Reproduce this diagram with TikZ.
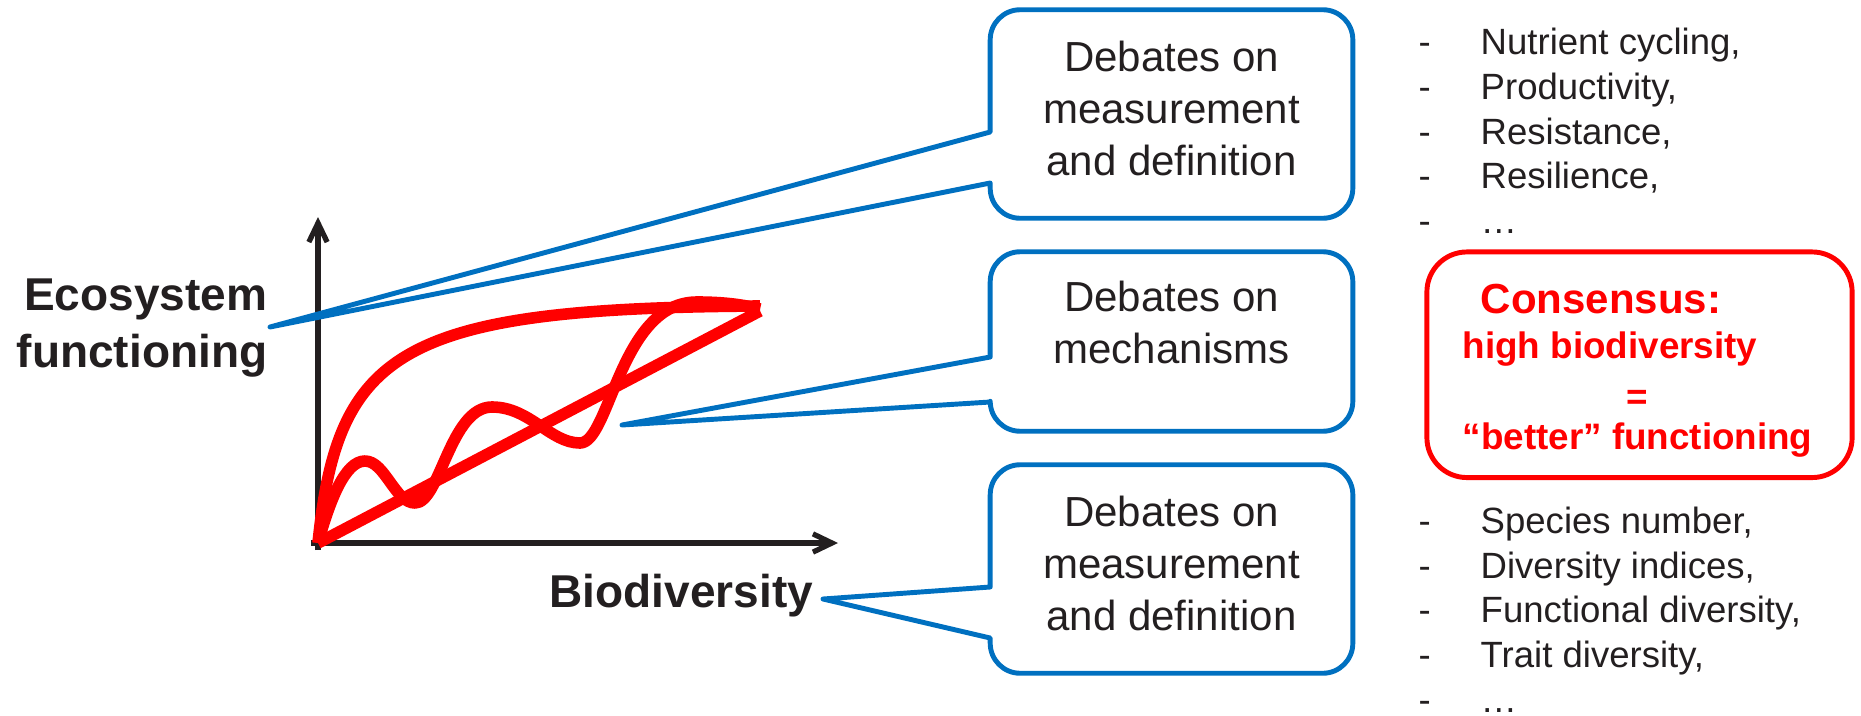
\documentclass[tikz,border=0pt]{standalone}
\usepackage{fontspec}
\setmainfont{Liberation Sans}
\usetikzlibrary{arrows.meta}

\definecolor{calloutblue}{RGB}{0,112,192}
\definecolor{inkgray}{RGB}{35,31,32}

% speech bubble: box node, tail tip, upper and lower y of the tail root
\newcommand{\speechbubble}[4]{%
  \draw[bubbleline] (#2) -- (#1.west |- 0,#3) [rounded corners=0.3cm]
    |- (#1.north east) |- (#1.south west) [sharp corners]
    -- (#1.west |- 0,#4) -- cycle;}

\begin{document}
\begin{tikzpicture}[x=0.01cm, y=-0.01cm, line join=round,
    axisline/.style={inkgray, line width=1.5pt, -{Straight Barb[length=5.4pt,width=5.2pt]}},
    redcurve/.style={red, line width=3.3pt},
    bubbleline/.style={calloutblue, line width=1.4pt},
    bubblebox/.style={inner sep=0, minimum width=3.61cm},
    boxtext/.style={inkgray, inner sep=0, font=\fontsize{11.95}{14.8}\selectfont},
    listtext/.style={inkgray, inner sep=0, font=\fontsize{10.39}{12.72}\selectfont},
    axislabel/.style={inkgray, inner sep=0, font=\fontsize{13.09}{16.22}\selectfont\bfseries},
    constext/.style={red, inner sep=0, anchor=base west, font=\fontsize{10.47}{12.9}\selectfont\bfseries}]
  \useasboundingbox (0,0) rectangle (1861,715);

  % axes
  \coordinate (origin) at (318,543);
  \coordinate (ytop) at (318,217);
  \coordinate (xend) at (838,543);
  \draw[axisline] ([yshift=-2pt]origin) -- (ytop);
  \draw[axisline] ([xshift=-2pt]origin) -- (xend);

  \node[axislabel, anchor=base east] (ecoLabel) at (268,310)
    {\begin{tabular}[t]{@{}r@{}}Ecosystem\\functioning\end{tabular}};
  \node[axislabel, anchor=base west] (bioLabel) at (549,607) {Biodiversity};

  % three response curves
  \draw[redcurve] (origin) -- (760,311);
  \draw[redcurve] (origin) .. controls (338,350) and (400,308) .. (760,306);
  \draw[redcurve] (origin) .. controls (330,500) and (345,461) .. (365,461)
    .. controls (385,461) and (395,503) .. (415,503)
    .. controls (440,503) and (450,407) .. (492,407)
    .. controls (530,407) and (550,443) .. (580,443)
    .. controls (610,443) and (620,302) .. (697,302)
    .. controls (725,302) and (745,305) .. (760,309);

  % callouts
  \coordinate (ecoTip) at (270,327);
  \coordinate (mechTip) at (622,425);
  \coordinate (bioTip) at (823,599);

  \node[bubblebox, minimum height=2.07cm] (measFn) at (1171.5,114) {};
  \node[bubblebox, minimum height=1.78cm] (mech) at (1171.5,341.5) {};
  \node[bubblebox, minimum height=2.07cm] (measBio) at (1171.5,569) {};

  \speechbubble{measFn}{ecoTip}{132}{183}
  \speechbubble{mech}{mechTip}{357}{402}
  \speechbubble{measBio}{bioTip}{587}{638}

  \node[boxtext, anchor=base] (measFnText) at (1171.5,71.7)
    {\begin{tabular}[t]{@{}c@{}}Debates on\\measurement\\and definition\end{tabular}};
  \node[boxtext, anchor=base] (mechText) at (1171.5,311.7)
    {\begin{tabular}[t]{@{}c@{}}Debates on\\mechanisms\end{tabular}};
  \node[boxtext, anchor=base] (measBioText) at (1171.5,526.7)
    {\begin{tabular}[t]{@{}c@{}}Debates on\\measurement\\and definition\end{tabular}};

  % lists
  \node[listtext, anchor=base west] (fnList) at (1418,54.7)
    {\begin{tabular}[t]{@{}p{0.62cm}@{}l@{}}
      -&Nutrient cycling,\\ -&Productivity,\\ -&Resistance,\\ -&Resilience,\\ -&…
    \end{tabular}};
  \node[listtext, anchor=base west] (bioList) at (1418,533.5)
    {\begin{tabular}[t]{@{}p{0.62cm}@{}l@{}}
      -&Species number,\\ -&Diversity indices,\\ -&Functional diversity,\\ -&Trait diversity,\\ -&…
    \end{tabular}};

  % consensus
  \node[draw=red, line width=1.4pt, rounded corners=0.4cm, minimum width=4.25cm,
    minimum height=2.255cm] (consBox) at (1639.5,364.75) {};
  \node[constext, font=\fontsize{11.95}{14.8}\selectfont\bfseries] (consTitle) at (1480,313) {Consensus:};
  \node[constext] (consHigh) at (1462,358) {high biodiversity};
  \node[constext, anchor=base] (consEq) at (1637,409) {=};
  \node[constext] (consBetter) at (1462,449) {“better” functioning};
\end{tikzpicture}
\end{document}
